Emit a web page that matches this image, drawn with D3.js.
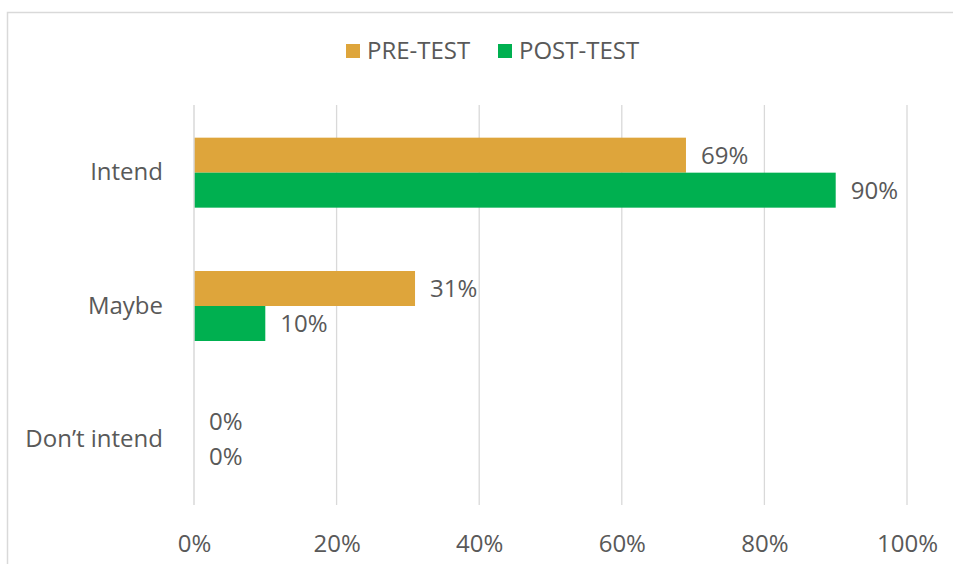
<!DOCTYPE html>
<html>
<head>
<meta charset="utf-8">
<script src="https://cdn.jsdelivr.net/npm/d3@7"></script>
<style>
  body { margin: 0; background: #fff; }
  text { font-family: "Open Sans", sans-serif; fill: #595959; }
</style>
</head>
<body>
<svg id="chart" width="953" height="564"></svg>
<script>
const categories = ["Intend", "Maybe", "Don\u2019t intend"];
const series = ["PRE-TEST", "POST-TEST"];
const preTest = [0.69, 0.31, 0];
const postTest = [0.90, 0.10, 0];
const xTicks = [0, 0.2, 0.4, 0.6, 0.8, 1];
const colors = ["#dea53b", "#00b050"];
const fontSize = 24;

const svg = d3.select("#chart");

// outer frame
svg.append("rect")
  .attr("x", 7.5).attr("y", 12.5)
  .attr("width", 960).attr("height", 570)
  .attr("fill", "none")
  .attr("stroke", "#d9d9d9")
  .attr("stroke-width", 1.5);

const plotLeft = 194, plotRight = 907, plotTop = 106, plotBottom = 506;

const x = d3.scaleLinear().domain([0, 1]).range([plotLeft, plotRight]);
const y = d3.scaleBand().domain(categories).range([plotTop, plotBottom]).padding(0);
const inner = d3.scaleBand().domain(series).range([0, y.bandwidth()])
  .paddingInner(0).paddingOuter(0.905);

// gridlines
svg.append("g")
  .selectAll("line")
  .data(xTicks.slice(1))
  .enter()
  .append("line")
  .attr("x1", d => x(d)).attr("x2", d => x(d))
  .attr("y1", plotTop - 1).attr("y2", plotBottom - 1)
  .attr("stroke", "#d9d9d9")
  .attr("stroke-width", 1.3);

// x tick labels
const xAxis = d3.axisBottom(x).tickValues(xTicks).tickFormat(d3.format(".0%")).tickSize(0).tickPadding(0);
const gx = svg.append("g").attr("transform", `translate(0, ${plotBottom + 29})`).call(xAxis);
gx.select(".domain").remove();
gx.selectAll("text").attr("font-size", fontSize).attr("fill", "#595959").attr("font-family", "Open Sans, sans-serif");

// category labels
const yAxis = d3.axisLeft(y).tickSize(0).tickPadding(31);
const gy = svg.append("g").attr("transform", `translate(${plotLeft}, 0)`).call(yAxis);
gy.select(".domain").remove();
gy.selectAll("text").attr("font-size", fontSize).attr("fill", "#595959").attr("font-family", "Open Sans, sans-serif");

const rows = [];
categories.forEach((c, i) => {
  rows.push({ cat: c, s: series[0], v: preTest[i], color: colors[0] });
  rows.push({ cat: c, s: series[1], v: postTest[i], color: colors[1] });
});

svg.append("g")
  .selectAll("rect")
  .data(rows)
  .enter()
  .append("rect")
  .attr("x", x(0))
  .attr("y", d => y(d.cat) + inner(d.s))
  .attr("width", d => x(d.v) - x(0))
  .attr("height", inner.bandwidth())
  .attr("fill", d => d.color);

svg.append("g")
  .selectAll("text")
  .data(rows)
  .enter()
  .append("text")
  .attr("x", d => x(d.v) + 15)
  .attr("y", d => y(d.cat) + inner(d.s) + inner.bandwidth() / 2)
  .attr("dy", "0.35em")
  .attr("font-size", fontSize)
  .text(d => d3.format(".0%")(d.v));

// axis line
svg.append("line")
  .attr("x1", x(0)).attr("x2", x(0))
  .attr("y1", plotTop - 1).attr("y2", plotBottom - 1)
  .attr("stroke", "#d9d9d9")
  .attr("stroke-width", 1.5);

// legend
const legendX = [346, 498];
const legend = svg.append("g")
  .selectAll("g")
  .data(series)
  .enter()
  .append("g")
  .attr("transform", (d, i) => `translate(${legendX[i]}, 44)`);
legend.append("rect")
  .attr("width", 14).attr("height", 14)
  .attr("fill", (d, i) => colors[i]);
legend.append("text")
  .attr("x", 21).attr("y", 7)
  .attr("dy", "0.35em")
  .attr("font-size", fontSize)
  .text(d => d);
</script>
</body>
</html>
